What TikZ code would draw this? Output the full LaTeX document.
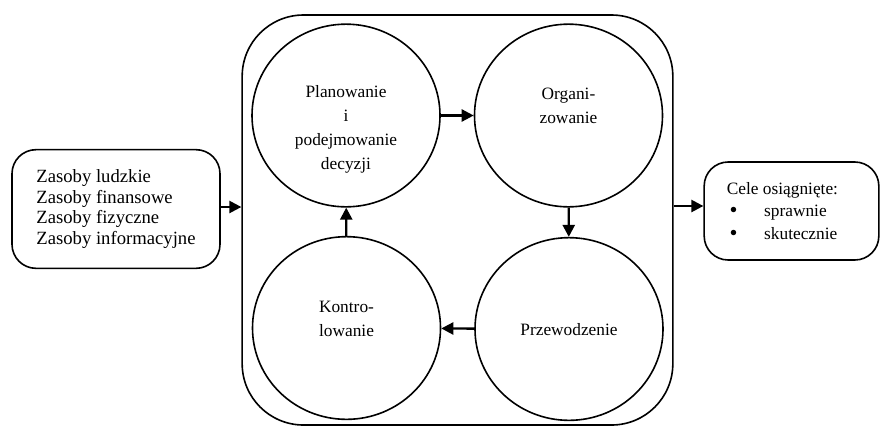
\documentclass[tikz,border=0pt]{standalone}
\usepackage{fontspec}
\setmainfont{Liberation Serif}
\usetikzlibrary{arrows.meta, shapes.geometric}
\newcommand{\punkt}{\hspace*{2pt}\makebox[26pt][l]{\raisebox{-0.5pt}{\fontsize{17pt}{17pt}\selectfont\textbullet}}}

\begin{document}
\begin{tikzpicture}[x=0.75pt, y=-0.75pt,
  every node/.style={font=\fontsize{13pt}{15.5pt}\selectfont},
  faza/.style={draw, ellipse, line width=1.2pt, minimum width=141pt, minimum height=137pt, inner sep=0pt},
  opis/.style={align=center, font=\fontsize{13pt}{18pt}\selectfont},
  ramka/.style={draw, rounded corners=18pt, line width=1.2pt, inner sep=0pt},
  strz/.style={line width=1.8pt, -{Triangle[length=9pt, width=9pt]}}]
\useasboundingbox (0,0) rectangle (880,426);
\node[ramka, rounded corners=46pt, minimum width=323pt, minimum height=307.5pt] (cykl) at (457.5,220) {};
\node[ramka, minimum width=156pt, minimum height=89pt, align=left, font=\fontsize{14pt}{15.5pt}\selectfont] (zasoby) at (116,209) {Zasoby ludzkie\\Zasoby finansowe\\Zasoby fizyczne\\Zasoby informacyjne};
\node[ramka, minimum width=131pt, minimum height=73.5pt, text width=97pt, align=flush left, font=\fontsize{13pt}{17pt}\selectfont] (cele) at (791.5,211) {Cele osiągnięte:\\\punkt sprawnie\\\punkt skutecznie};
\node[faza] (plan) at (346,115.5) {};
\node[faza] (org) at (568.5,115.5) {};
\node[faza] (przew) at (569,329) {};
\node[faza] (kontr) at (346.5,328) {};
\node[opis] (planT) at (346,129) {Planowanie\\i\\podejmowanie\\decyzji};
\node[opis] (orgT) at (568.5,106) {Organi-\\zowanie};
\node[opis] (przewT) at (569,330) {Przewodzenie};
\node[opis] (kontrT) at (346.5,319) {Kontro-\\lowanie};
\draw[strz] ([yshift=1.5pt]zasoby.east) -- ([yshift=1.5pt]zasoby.east -| cykl.west);
\draw[strz] ([yshift=3.75pt]cykl.east |- cele.west) -- ([yshift=3.75pt]cele.west);
\draw[strz] (plan) -- (org);
\draw[strz] (org) -- (przew);
\draw[strz] (przew) -- (kontr);
\draw[strz] (kontr) -- (plan);
\end{tikzpicture}
\end{document}
